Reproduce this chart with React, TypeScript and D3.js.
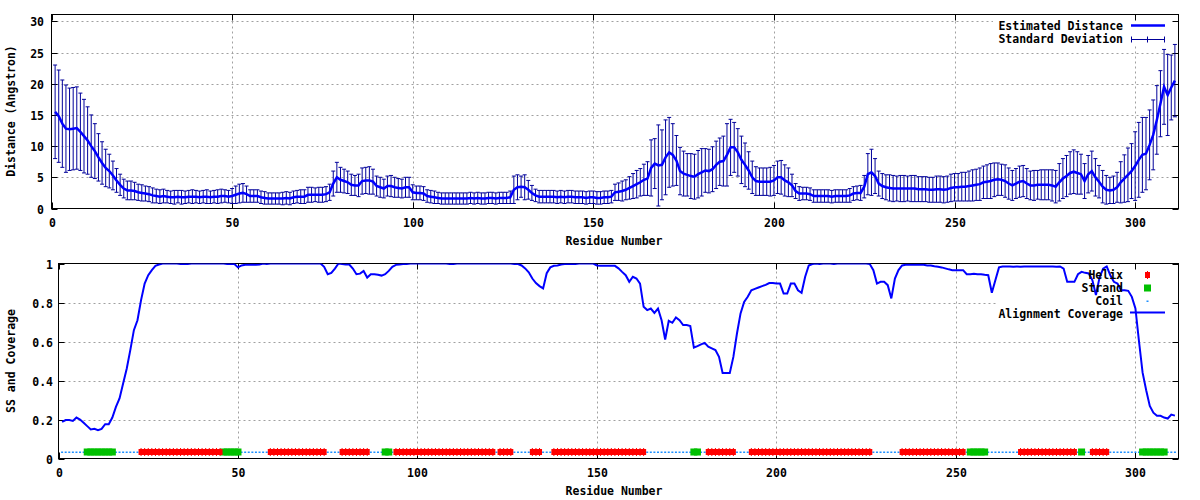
import React from 'react';
import * as d3 from 'd3';

// Estimated distance (Angstrom) for residues 1..311
const distance = [
  15.5, 14.8, 13.6, 12.8, 12.7, 12.8, 12.9, 12.3, 11.6, 10.9,
  10.0, 9.2, 8.2, 7.3, 6.5, 6.0, 5.3, 4.5, 3.8, 3.2,
  2.9, 2.9, 2.8, 2.6, 2.5, 2.4, 2.3, 2.1, 2.0, 1.9,
  2.0, 1.9, 1.8, 1.8, 1.9, 1.8, 1.8, 1.9, 1.9, 1.9,
  1.8, 1.9, 1.9, 1.8, 1.9, 1.9, 2.0, 2.0, 1.9, 2.0,
  2.2, 2.4, 2.5, 2.3, 2.0, 2.0, 2.0, 1.8, 1.7, 1.6,
  1.6, 1.6, 1.6, 1.6, 1.7, 1.6, 1.8, 1.9, 1.9, 1.9,
  2.2, 2.2, 2.2, 2.2, 2.2, 2.3, 2.6, 4.0, 5.0, 4.6,
  4.4, 4.2, 3.8, 3.7, 3.7, 4.4, 4.5, 4.5, 4.3, 3.6,
  3.4, 3.2, 3.6, 3.6, 3.4, 3.3, 3.2, 3.4, 3.4, 2.6,
  2.5, 2.5, 2.4, 2.0, 1.9, 1.8, 1.7, 1.6, 1.6, 1.6,
  1.6, 1.6, 1.6, 1.6, 1.6, 1.7, 1.6, 1.7, 1.6, 1.6,
  1.7, 1.7, 1.6, 1.7, 1.7, 1.7, 1.8, 3.0, 3.4, 3.5,
  3.4, 3.0, 2.5, 2.1, 1.9, 1.9, 1.9, 1.9, 1.9, 1.8,
  1.9, 1.8, 1.9, 1.9, 1.8, 1.8, 1.8, 1.7, 1.8, 1.8,
  1.7, 1.7, 1.8, 1.8, 1.9, 2.6, 2.7, 2.8, 3.0, 3.3,
  3.6, 3.9, 4.2, 4.6, 4.8, 6.5, 7.2, 6.9, 7.0, 8.2,
  9.0, 8.6, 7.7, 6.0, 5.6, 5.4, 5.2, 5.1, 5.5, 5.8,
  6.1, 6.0, 6.3, 7.0, 7.5, 7.6, 8.6, 9.8, 9.8, 9.0,
  7.8, 7.0, 6.1, 5.0, 4.4, 4.3, 4.3, 4.3, 4.3, 4.5,
  5.0, 5.0, 4.5, 4.2, 3.7, 2.8, 2.4, 2.4, 2.4, 2.3,
  2.0, 2.0, 2.0, 2.0, 2.0, 1.9, 2.0, 2.0, 2.0, 2.0,
  2.1, 2.4, 2.5, 2.5, 3.5, 5.5, 5.8, 5.2, 4.0, 3.6,
  3.4, 3.3, 3.2, 3.2, 3.2, 3.2, 3.2, 3.2, 3.2, 3.1,
  3.1, 3.1, 3.0, 3.0, 3.1, 3.1, 3.0, 3.1, 3.3, 3.4,
  3.4, 3.5, 3.5, 3.6, 3.7, 3.8, 3.9, 4.2, 4.3, 4.4,
  4.6, 4.7, 4.6, 4.4, 4.0, 3.7, 4.0, 4.3, 4.4, 4.0,
  3.7, 3.7, 3.8, 3.8, 3.8, 3.8, 3.7, 3.5, 4.2, 4.8,
  5.2, 5.7, 5.9, 5.7, 5.5, 4.4, 5.5, 6.0, 5.0, 4.3,
  3.5, 3.0, 2.9, 3.0, 3.4, 4.2, 4.8, 5.4, 6.0, 6.8,
  7.8, 8.6, 8.8, 10.2, 11.8, 14.2, 16.8, 19.5, 18.2, 19.4, 20.5,
];

// Standard deviation for residues 1..311
const stdDev = [
  7.5, 7.4, 7.0, 7.0, 6.6, 6.6, 6.6, 6.2, 5.9, 5.4,
  5.0, 4.4, 3.8, 3.4, 3.0, 2.7, 2.3, 1.9, 1.7, 1.5,
  1.5, 1.5, 1.4, 1.3, 1.3, 1.2, 1.2, 1.2, 1.1, 1.1,
  1.1, 1.0, 1.0, 1.1, 1.0, 1.1, 1.0, 1.0, 1.1, 1.0,
  1.0, 1.0, 1.1, 1.0, 1.0, 1.1, 1.1, 1.0, 1.0, 1.2,
  1.4, 1.5, 1.5, 1.3, 1.0, 1.0, 1.0, 1.0, 1.0, 0.9,
  0.9, 0.9, 0.9, 1.0, 1.0, 1.0, 1.0, 1.0, 1.1, 1.1,
  1.2, 1.2, 1.1, 1.2, 1.2, 1.2, 1.3, 2.0, 2.4, 2.0,
  1.9, 1.8, 1.7, 1.6, 1.8, 2.1, 2.1, 2.2, 2.0, 1.6,
  1.6, 1.5, 1.6, 1.7, 1.6, 1.5, 1.5, 1.6, 1.6, 1.2,
  1.1, 1.1, 1.1, 1.0, 1.0, 1.0, 0.9, 0.9, 0.9, 0.9,
  0.9, 0.9, 0.9, 0.9, 0.9, 0.9, 0.9, 0.9, 0.9, 0.9,
  0.9, 0.9, 0.9, 0.9, 0.9, 0.9, 1.0, 2.2, 2.0, 1.7,
  2.0, 1.5, 1.2, 1.0, 1.0, 1.0, 1.0, 1.0, 1.0, 1.0,
  1.0, 1.0, 1.0, 1.0, 1.0, 1.0, 1.0, 1.0, 1.0, 1.0,
  1.0, 1.0, 1.0, 1.0, 1.0, 1.3, 1.4, 1.6, 1.6, 1.8,
  2.0, 2.2, 2.2, 2.5, 2.7, 4.5, 4.0, 6.5, 5.6, 6.0,
  5.6, 5.0, 4.0, 3.8, 3.6, 3.4, 3.6, 3.6, 3.8, 3.8,
  3.5, 3.5, 3.6, 3.8, 3.8, 4.0, 5.0, 4.5, 4.0, 3.8,
  3.8, 3.5, 3.0, 2.6, 2.3, 2.2, 2.2, 2.2, 2.3, 2.4,
  2.6, 2.7, 2.5, 2.3, 1.8, 1.2, 1.1, 1.0, 1.0, 1.0,
  1.0, 1.0, 1.0, 1.0, 1.0, 1.0, 1.0, 1.0, 1.0, 1.0,
  1.1, 1.1, 1.1, 1.2, 1.8, 3.3, 3.7, 2.8, 2.0, 2.0,
  2.0, 2.1, 2.1, 2.0, 2.1, 2.1, 2.0, 2.1, 2.1, 2.0,
  2.0, 2.0, 2.0, 2.0, 2.1, 2.1, 2.1, 2.1, 2.2, 2.2,
  2.2, 2.3, 2.3, 2.4, 2.5, 2.5, 2.6, 2.6, 2.7, 2.8,
  2.7, 2.6, 2.5, 2.6, 2.5, 2.4, 2.4, 2.5, 2.5, 2.4,
  2.3, 2.4, 2.3, 2.4, 2.4, 2.4, 2.5, 2.6, 3.0, 3.2,
  3.3, 3.4, 3.5, 3.4, 3.2, 2.8, 3.0, 3.2, 3.0, 2.6,
  2.6, 2.3, 2.1, 2.2, 2.4, 3.3, 3.8, 4.3, 4.4, 5.5,
  6.0, 6.0, 5.8, 5.6, 5.6, 5.5, 5.3, 6.0, 6.5, 5.2, 5.8,
];

// Alignment coverage for residues 1..311
const coverage = [
  0.188, 0.197, 0.197, 0.193, 0.21, 0.2, 0.183, 0.166, 0.149, 0.152,
  0.145, 0.152, 0.176, 0.176, 0.21, 0.265, 0.308, 0.385, 0.46, 0.556,
  0.658, 0.709, 0.812, 0.897, 0.94, 0.966, 0.988, 0.995, 1.0, 1.0,
  1.0, 1.0, 1.0, 0.997, 0.997, 0.997, 1.0, 1.0, 1.0, 1.0,
  1.0, 1.0, 1.0, 1.0, 1.0, 1.0, 0.997, 0.997, 0.997, 0.98,
  0.99, 0.993, 0.993, 0.995, 0.993, 0.995, 1.0, 0.997, 1.0, 1.0,
  1.0, 1.0, 1.0, 1.0, 1.0, 1.0, 1.0, 1.0, 1.0, 1.0,
  1.0, 1.0, 1.0, 0.983, 0.945, 0.952, 0.974, 1.0, 0.997, 0.995,
  0.995, 0.974, 0.945, 0.948, 0.962, 0.928, 0.945, 0.945, 0.942, 0.938,
  0.945, 0.962, 0.983, 0.993, 0.995, 0.997, 0.997, 1.0, 1.0, 1.0,
  1.0, 1.0, 1.0, 1.0, 1.0, 1.0, 1.0, 1.0, 0.997, 0.997,
  1.0, 1.0, 1.0, 1.0, 1.0, 1.0, 1.0, 1.0, 1.0, 1.0,
  1.0, 1.0, 1.0, 1.0, 1.0, 1.0, 0.997, 0.997, 0.99, 0.975,
  0.955, 0.923, 0.9, 0.884, 0.872, 0.95, 0.98, 0.988, 0.99, 0.995,
  0.997, 0.997, 0.997, 0.997, 1.0, 1.0, 1.0, 1.0, 1.0, 0.99,
  0.988, 0.988, 0.988, 0.988, 0.988, 0.975, 0.957, 0.94, 0.906, 0.932,
  0.923, 0.897, 0.778, 0.761, 0.769, 0.747, 0.769, 0.709, 0.61, 0.706,
  0.696, 0.723, 0.709, 0.684, 0.684, 0.679, 0.569, 0.576, 0.585, 0.593,
  0.573, 0.565, 0.556, 0.521, 0.439, 0.439, 0.439, 0.521, 0.641, 0.744,
  0.803, 0.829, 0.863, 0.87, 0.877, 0.884, 0.89, 0.9, 0.9, 0.897,
  0.897, 0.846, 0.846, 0.897, 0.897, 0.863, 0.85, 0.932, 0.99, 0.997,
  1.0, 0.997, 1.0, 1.0, 1.0, 0.997, 1.0, 1.0, 1.0, 1.0,
  1.0, 1.0, 1.0, 1.0, 1.0, 0.997, 0.966, 0.897, 0.906, 0.906,
  0.889, 0.821, 0.923, 0.966, 0.99, 0.993, 0.993, 0.993, 0.993, 0.993,
  0.993, 0.99, 0.99, 0.986, 0.983, 0.98, 0.975, 0.97, 0.966, 0.966,
  0.966, 0.966, 0.945, 0.945, 0.948, 0.945, 0.945, 0.942, 0.94, 0.85,
  0.915, 0.98, 0.985, 0.985, 0.985, 0.983, 0.985, 0.983, 0.985, 0.985,
  0.985, 0.985, 0.985, 0.985, 0.985, 0.985, 0.985, 0.983, 0.985, 0.974,
  0.906, 0.906, 0.906, 0.945, 0.957, 0.952, 0.949, 0.915, 0.838, 0.928,
  0.974, 0.985, 0.94, 0.906, 0.897, 0.863, 0.863, 0.86, 0.829, 0.77,
  0.6, 0.44, 0.35, 0.27, 0.235, 0.219, 0.219, 0.21, 0.205, 0.225, 0.22,
];

// Secondary structure ranges (inclusive residue numbers); everything else is coil
const helixRanges = [
  [23, 45], [59, 74], [79, 86], [94, 121], [123, 126], [132, 134],
  [138, 163], [181, 188], [193, 226], [235, 252], [268, 283], [288, 292],
];
const strandRanges = [
  [8, 15], [46, 50], [91, 92], [177, 178], [254, 258], [285, 285], [302, 308],
];

const xTicks = [0, 50, 100, 150, 200, 250, 300];
const distTicks = [0, 5, 10, 15, 20, 25, 30];
const covTicks = [0, 0.2, 0.4, 0.6, 0.8, 1];
const covTickLabels = ['0', '0.2', '0.4', '0.6', '0.8', '1'];

const FONT = "'DejaVu Sans Mono', 'Liberation Mono', monospace";
const FS = 11.5;
const GRID = '#a0a0a0';
const BLUE = '#0000ff';
const NAVY = '#00009a';

type Box = { x0: number; x1: number; y0: number; y1: number };

function Frame({ x, y, xt, yt, yLabels, keyBox, yLabelX, xLabelY }: any) {
  const [l, r] = x.range();
  const [b, t] = y.range();
  const kb: Box = keyBox;
  return (
    <g>
      {yt.map((v: number, i: number) => {
        const py = Math.round(y(v)) + 0.5;
        if (v === 0 || py <= t + 1) return null;
        const inKey = py >= kb.y0 && py <= kb.y1;
        return (
          <line key={'gy' + i} x1={l} x2={inKey ? kb.x0 : r} y1={py} y2={py}
            stroke={GRID} strokeDasharray="2,3" strokeWidth={1} />
        );
      })}
      {xt.map((v: number, i: number) => {
        const px = Math.round(x(v)) + 0.5;
        if (v === 0) return null;
        const inKey = px >= kb.x0 && px <= kb.x1;
        return (
          <line key={'gx' + i} x1={px} x2={px} y1={b} y2={inKey ? kb.y1 : t}
            stroke={GRID} strokeDasharray="2,3" strokeWidth={1} />
        );
      })}
      <rect x={l} y={t} width={r - l} height={b - t} fill="none" stroke="#000" strokeWidth={1} />
      {yt.map((v: number, i: number) => {
        const py = Math.round(y(v)) + 0.5;
        return (
          <g key={'ty' + i}>
            <line x1={l} x2={l + 6} y1={py} y2={py} stroke="#000" />
            <line x1={r - 6} x2={r} y1={py} y2={py} stroke="#000" />
            <text x={yLabelX} y={py} dy="0.35em" textAnchor="end" fontFamily={FONT}
              fontSize={FS} fontWeight="bold" fill="#000">{yLabels[i]}</text>
          </g>
        );
      })}
      {xt.map((v: number, i: number) => {
        const px = Math.round(x(v)) + 0.5;
        return (
          <g key={'tx' + i}>
            <line x1={px} x2={px} y1={b} y2={b - 6} stroke="#000" />
            <line x1={px} x2={px} y1={t} y2={t + 6} stroke="#000" />
            <text x={px} y={xLabelY} textAnchor="middle" fontFamily={FONT}
              fontSize={FS} fontWeight="bold" fill="#000">{v}</text>
          </g>
        );
      })}
    </g>
  );
}

export default function App() {
  const residues = distance.map((_, i) => i + 1);

  const xTop = d3.scaleLinear().domain([0, 312]).range([51.5, 1178.5]);
  const yTop = d3.scaleLinear().domain([0, 31.1]).range([208.5, 14.5]);
  const xBot = d3.scaleLinear().domain([0, 312]).range([58.5, 1178.5]);
  const yBot = d3.scaleLinear().domain([0, 1]).range([458.5, 263.5]);

  const distLine = d3.line<number>().x((_, i) => xTop(residues[i])).y((d) => yTop(d));
  const covLine = d3.line<number>().x((_, i) => xBot(residues[i])).y((d) => yBot(d));

  const inRanges = (r: number, ranges: number[][]) => ranges.some(([a, b]) => r >= a && r <= b);
  const helixRes = residues.filter((r) => inRanges(r, helixRanges));
  const strandRes = residues.filter((r) => inRanges(r, strandRanges));
  const coilRes = residues.filter((r) => !inRanges(r, helixRanges) && !inRanges(r, strandRanges));
  const ssY = 452;

  const textProps = { fontFamily: FONT, fontSize: FS, fontWeight: 'bold' as const, fill: '#000' };

  return (
    <svg width={1200} height={500} style={{ position: 'absolute', left: 0, top: 0, background: '#fff' }}>
      <defs>
        <clipPath id="clipTop">
          <rect x={51.5} y={14.5} width={1127} height={194} />
        </clipPath>
        <clipPath id="clipBot">
          <rect x={58.5} y={263.5} width={1120} height={195} />
        </clipPath>
      </defs>
      <rect x={0} y={0} width={1200} height={500} fill="#fff" />

      {/* ===== Top panel ===== */}
      <Frame x={xTop} y={yTop} xt={xTicks} yt={distTicks} yLabels={distTicks.map(String)}
        keyBox={{ x0: 993, x1: 1179, y0: 14, y1: 46 }} yLabelX={44} xLabelY={227} />
      <g clipPath="url(#clipTop)">
        {residues.map((r, i) => {
          const px = xTop(r);
          const hi = yTop(distance[i] + stdDev[i]);
          const lo = yTop(Math.max(0, distance[i] - stdDev[i]));
          return (
            <g key={'e' + r} stroke={NAVY} strokeWidth={1}>
              <line x1={px} x2={px} y1={hi} y2={lo} />
              <line x1={px - 2} x2={px + 2} y1={hi} y2={hi} />
              <line x1={px - 2} x2={px + 2} y1={lo} y2={lo} />
            </g>
          );
        })}
        <path d={distLine(distance) || ''} fill="none" stroke={BLUE} strokeWidth={2.5} />
      </g>
      <text x={11} y={111} transform="rotate(-90 11 111)" textAnchor="middle" dy="0.35em" {...textProps}>
        Distance (Angstron)
      </text>
      <text x={614} y={245} textAnchor="middle" {...textProps}>Residue Number</text>
      <text x={1123} y={26} dy="0.35em" textAnchor="end" {...textProps}>Estimated Distance</text>
      <line x1={1131} x2={1165} y1={25.5} y2={25.5} stroke={BLUE} strokeWidth={2.5} />
      <text x={1123} y={39} dy="0.35em" textAnchor="end" {...textProps}>Standard Deviation</text>
      <g stroke={NAVY} strokeWidth={1}>
        <line x1={1131.5} x2={1164.5} y1={39.5} y2={39.5} />
        <line x1={1131.5} x2={1131.5} y1={36.5} y2={42.5} />
        <line x1={1147.5} x2={1147.5} y1={36.5} y2={42.5} />
        <line x1={1164.5} x2={1164.5} y1={36.5} y2={42.5} />
      </g>

      {/* ===== Bottom panel ===== */}
      <Frame x={xBot} y={yBot} xt={xTicks} yt={covTicks} yLabels={covTickLabels}
        keyBox={{ x0: 996, x1: 1179, y0: 263, y1: 320 }} yLabelX={53} xLabelY={477} />
      <g clipPath="url(#clipBot)">
        {coilRes.map((r) => (
          <rect key={'c' + r} x={xBot(r) - 1} y={ssY - 0.5} width={2} height={1.5} fill="#1e90ff" />
        ))}
        {strandRes.map((r) => (
          <rect key={'s' + r} x={xBot(r) - 3.5} y={ssY - 3.5} width={7} height={7} fill="#00c000" />
        ))}
        {helixRes.map((r) => (
          <g key={'h' + r} fill="#ff0000">
            <rect x={xBot(r) - 2.5} y={ssY - 3} width={5} height={6} />
            <rect x={xBot(r) - 0.5} y={ssY - 4} width={1} height={8} />
          </g>
        ))}
        <path d={covLine(coverage) || ''} fill="none" stroke={BLUE} strokeWidth={2} />
      </g>
      <text x={11} y={361} transform="rotate(-90 11 361)" textAnchor="middle" dy="0.35em" {...textProps}>
        SS and Coverage
      </text>
      <text x={614} y={495} textAnchor="middle" {...textProps}>Residue Number</text>
      <text x={1123} y={275} dy="0.35em" textAnchor="end" {...textProps}>Helix</text>
      <g fill="#ff0000">
        <rect x={1145} y={272} width={5} height={6} />
        <rect x={1147} y={271} width={1} height={8} />
      </g>
      <text x={1123} y={288} dy="0.35em" textAnchor="end" {...textProps}>Strand</text>
      <rect x={1144} y={284.5} width={7} height={7} fill="#00c000" />
      <text x={1123} y={301} dy="0.35em" textAnchor="end" {...textProps}>Coil</text>
      <rect x={1146.5} y={300.5} width={2} height={1.5} fill="#1e90ff" />
      <text x={1123} y={314} dy="0.35em" textAnchor="end" {...textProps}>Alignment Coverage</text>
      <line x1={1130} x2={1165} y1={312.5} y2={312.5} stroke={BLUE} strokeWidth={2} />
    </svg>
  );
}
